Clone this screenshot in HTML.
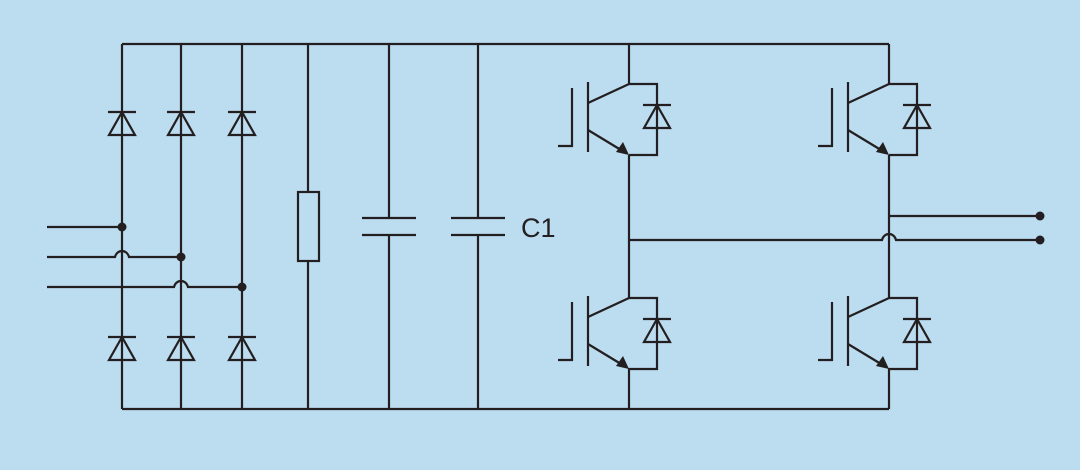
<!DOCTYPE html><html><head><style>body{margin:0;background:#bcdcf0}svg{display:block}</style></head><body>
<svg width="1080" height="470" viewBox="0 0 1080 470" xmlns="http://www.w3.org/2000/svg">
<rect width="1080" height="470" fill="#bcdcf0"/>
<defs>
<g id="d" fill="none" stroke="#231f20" stroke-width="2.2"><line x1="-14" y1="0" x2="14" y2="0"/><path d="M0 0 L-13 23 L13 23 Z"/></g>
<g id="q" fill="none" stroke="#231f20" stroke-width="2.2">
<path d="M-57 4 V62 H-71"/><line x1="-41" y1="-2" x2="-41" y2="68"/>
<line x1="-41" y1="19" x2="0" y2="0"/><line x1="-41" y1="46" x2="-8" y2="66"/>
<path d="M0 71 L-13 68 L-6 58 Z" fill="#231f20" stroke="none"/>
<path d="M0 0 H28 V71 H0"/><use href="#d" x="28" y="21"/>
</g>
</defs>
<g fill="none" stroke="#231f20" stroke-width="2.2">
<line x1="122" y1="44" x2="889" y2="44"/><line x1="122" y1="409" x2="889" y2="409"/>
<line x1="122" y1="44" x2="122" y2="409"/><line x1="181" y1="44" x2="181" y2="409"/><line x1="242" y1="44" x2="242" y2="409"/>
<line x1="47" y1="227" x2="122" y2="227"/>
<path d="M47 257 H115 C117 249 127 249 129 257 H181"/>
<path d="M47 287 H174 C176 279 186 279 188 287 H242"/>
<line x1="308" y1="44" x2="308" y2="192"/><line x1="308" y1="261" x2="308" y2="409"/><rect x="298" y="192" width="21" height="69"/>
<line x1="389" y1="44" x2="389" y2="218"/><line x1="389" y1="235" x2="389" y2="409"/><line x1="362" y1="218" x2="416" y2="218"/><line x1="362" y1="235" x2="416" y2="235"/>
<line x1="478" y1="44" x2="478" y2="218"/><line x1="478" y1="235" x2="478" y2="409"/><line x1="451" y1="218" x2="505" y2="218"/><line x1="451" y1="235" x2="505" y2="235"/>
<line x1="629" y1="44" x2="629" y2="84"/><line x1="629" y1="155" x2="629" y2="298"/><line x1="629" y1="368" x2="629" y2="409"/>
<line x1="889" y1="44" x2="889" y2="84"/><line x1="889" y1="155" x2="889" y2="298"/><line x1="889" y1="368" x2="889" y2="409"/>
<line x1="889" y1="216" x2="1040" y2="216"/>
<path d="M629 240 H882 C884 232 894 232 896 240 H1040"/>
</g>
<g fill="#231f20"><circle cx="122" cy="227" r="4.5"/><circle cx="181" cy="257" r="4.5"/><circle cx="242" cy="287" r="4.5"/><circle cx="1040" cy="216" r="4.5"/><circle cx="1040" cy="240" r="4.5"/></g>
<use href="#d" x="122" y="112"/><use href="#d" x="181" y="112"/><use href="#d" x="242" y="112"/>
<use href="#d" x="122" y="337"/><use href="#d" x="181" y="337"/><use href="#d" x="242" y="337"/>
<use href="#q" x="629" y="84"/><use href="#q" x="629" y="298"/><use href="#q" x="889" y="84"/><use href="#q" x="889" y="298"/>
<text x="521" y="237" font-family="Liberation Sans, sans-serif" font-size="27" fill="#231f20">C1</text>
</svg></body></html>
